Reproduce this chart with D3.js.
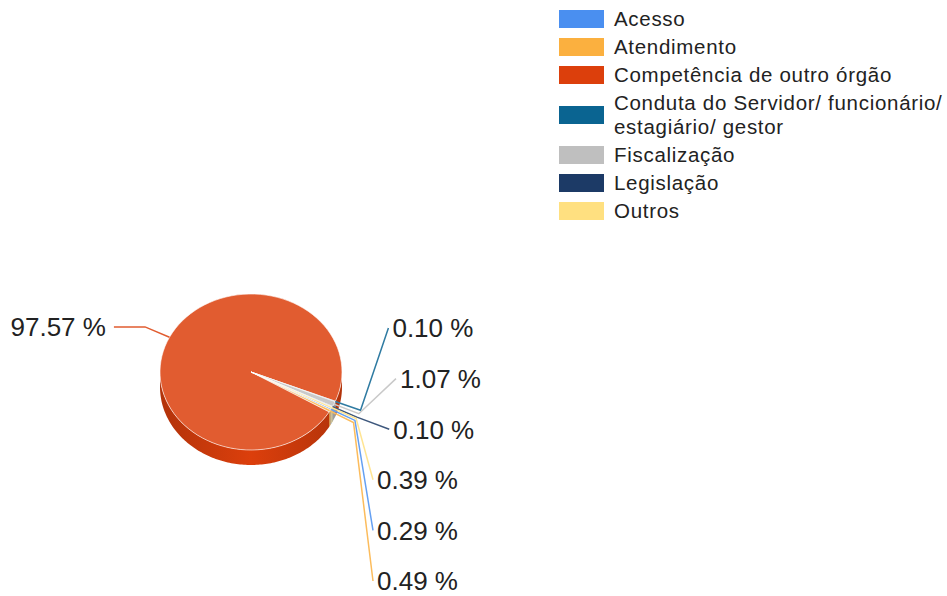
<!DOCTYPE html>
<html>
<head>
<meta charset="utf-8">
<script src="https://cdn.jsdelivr.net/npm/d3@7"></script>
<style>
  body { margin: 0; background: #fff; }
  text { font-family: "Liberation Sans", Arial, sans-serif; fill: #222; }
</style>
</head>
<body>
<div id="chart"></div>
<script>
var categories = ["Acesso", "Atendimento", "Competência de outro órgão",
  "Conduta do Servidor/ funcionário/ estagiário/ gestor",
  "Fiscalização", "Legislação", "Outros"];
var values = [0.29, 0.49, 97.57, 0.10, 1.07, 0.10, 0.39];
var colors = ["#4a8ff0", "#fbb03f", "#dc3f0c", "#0a6491", "#bfbfbf", "#1c3a66", "#ffe080"];

var width = 947, height = 596;
var cx = 251, cy = 372, rx = 91, ry = 78, depth = 15;
var startAngle = 118 * Math.PI / 180;

var data = categories.map(function (c, i) {
  return { name: c, value: values[i], color: colors[i] };
});

var svg = d3.select("#chart").append("svg")
  .attr("width", width)
  .attr("height", height);

var defs = svg.append("defs");

var pie = d3.pie()
  .sort(null)
  .value(function (d) { return d.value; })
  .startAngle(startAngle)
  .endAngle(startAngle + 2 * Math.PI);

var arcs = pie(data);

function topColor(c) { return d3.interpolateRgb(c, "#fff")(0.15); }

function pt(a, r, dy) {
  return [cx + rx * r * Math.sin(a), cy - ry * r * Math.cos(a) + (dy || 0)];
}

// side of the 3d pie: only the front half is visible
function sidePath(s, e) {
  var n = Math.max(2, Math.ceil((e - s) / 0.02));
  var top = d3.range(n + 1).map(function (i) { return pt(s + (e - s) * i / n, 1); });
  var bottom = top.slice().reverse().map(function (p) { return [p[0], p[1] + depth]; });
  return d3.line()(top.concat(bottom)) + "Z";
}

arcs.forEach(function (d, i) {
  var base = d3.color(d.data.color);
  var g = defs.append("linearGradient")
    .attr("id", "side" + i)
    .attr("gradientUnits", "userSpaceOnUse")
    .attr("x1", cx - rx).attr("x2", cx + rx)
    .attr("y1", 0).attr("y2", 0);
  g.append("stop").attr("offset", "0%").attr("stop-color", base.darker(0.6));
  g.append("stop").attr("offset", "50%").attr("stop-color", base);
  g.append("stop").attr("offset", "100%").attr("stop-color", base.darker(0.6));
});

var sides = svg.append("g");
arcs.forEach(function (d, i) {
  [0, 1].forEach(function (k) {
    var lo = Math.PI / 2 + 2 * Math.PI * k, hi = 3 * Math.PI / 2 + 2 * Math.PI * k;
    var s = Math.max(d.startAngle, lo), e = Math.min(d.endAngle, hi);
    if (e > s) {
      sides.append("path")
        .attr("d", sidePath(s, e))
        .attr("fill", "url(#side" + i + ")");
    }
  });
});

var arc = d3.arc().innerRadius(0).outerRadius(rx);

svg.append("g")
  .attr("transform", "translate(" + cx + "," + cy + ") scale(1," + (ry / rx) + ")")
  .selectAll("path")
  .data(arcs)
  .enter()
  .append("path")
  .attr("d", arc)
  .attr("fill", function (d) { return topColor(d.data.color); })
  .attr("stroke", "#fff")
  .attr("stroke-width", 0.6)
  .attr("vector-effect", "non-scaling-stroke");

// labels: position and spread
var labelGap = 50.6, bottomLimit = height - 15;
arcs.forEach(function (d) {
  d.mid = (d.startAngle + d.endAngle) / 2;
  d.p0 = pt(d.mid, 1);
  d.knee = pt(d.mid, 1.3);
  d.right = Math.sin(d.mid) > 0;
  d.ly = d.knee[1];
});

[true, false].forEach(function (side) {
  var list = arcs.filter(function (d) { return d.right === side; })
    .sort(function (a, b) { return a.knee[1] - b.knee[1]; });
  for (var i = 1; i < list.length; i++) {
    list[i].ly = Math.max(list[i].ly, list[i - 1].ly + labelGap);
  }
  for (var j = list.length - 1; j >= 0; j--) {
    var lim = j === list.length - 1 ? bottomLimit : list[j + 1].ly - labelGap;
    list[j].ly = Math.min(list[j].ly, lim);
  }
});

arcs.forEach(function (d) {
  var dy = d.ly - 380;
  var ex = 145 * Math.sqrt(Math.max(0, 1 - (dy / 163) * (dy / 163)));
  ex = Math.max(ex, 122);
  d.lx = d.right ? cx + ex : cx - ex;
});

var fmt = d3.format(".2f");

svg.append("g")
  .selectAll("path")
  .data(arcs)
  .enter()
  .append("path")
  .attr("fill", "none")
  .attr("stroke", function (d) { return topColor(d.data.color); })
  .attr("stroke-width", 1.5)
  .attr("d", function (d) { return d3.line()([d.p0, d.knee, [d.lx, d.ly]]); });

svg.append("g")
  .selectAll("text")
  .data(arcs)
  .enter()
  .append("text")
  .attr("x", function (d) { return d.right ? d.lx + 4 : d.lx - 8; })
  .attr("y", function (d) { return d.ly; })
  .attr("dy", "0.36em")
  .attr("text-anchor", function (d) { return d.right ? "start" : "end"; })
  .style("font-size", "26px")
  .text(function (d) { return fmt(d.data.value) + " %"; });

// legend
var legend = svg.append("g");
var lgX = 559, lgTextX = 614, lgMax = width - lgTextX + 1, lineH = 24;
var rowY = 19;
data.forEach(function (d) {
  var t = legend.append("text")
    .attr("x", lgTextX)
    .style("font-size", "20.5px")
    .style("letter-spacing", "0.7px");
  var words = d.name.split(" "), lines = [], cur = [];
  words.forEach(function (w) {
    t.text(cur.concat([w]).join(" "));
    if (cur.length && t.node().getComputedTextLength() > lgMax) {
      lines.push(cur.join(" "));
      cur = [w];
    } else {
      cur.push(w);
    }
  });
  lines.push(cur.join(" "));
  t.text(null);
  var center = rowY + (lines.length - 1) * lineH / 2;
  lines.forEach(function (l, k) {
    t.append("tspan")
      .attr("x", lgTextX)
      .attr("y", center - (lines.length - 1) * lineH / 2 + k * lineH)
      .attr("dy", "0.36em")
      .text(l);
  });
  legend.append("rect")
    .attr("x", lgX)
    .attr("y", center - 9)
    .attr("width", 45)
    .attr("height", 18)
    .attr("fill", d.color);
  rowY = center + (lines.length - 1) * lineH / 2 + 28;
});
</script>
</body>
</html>
